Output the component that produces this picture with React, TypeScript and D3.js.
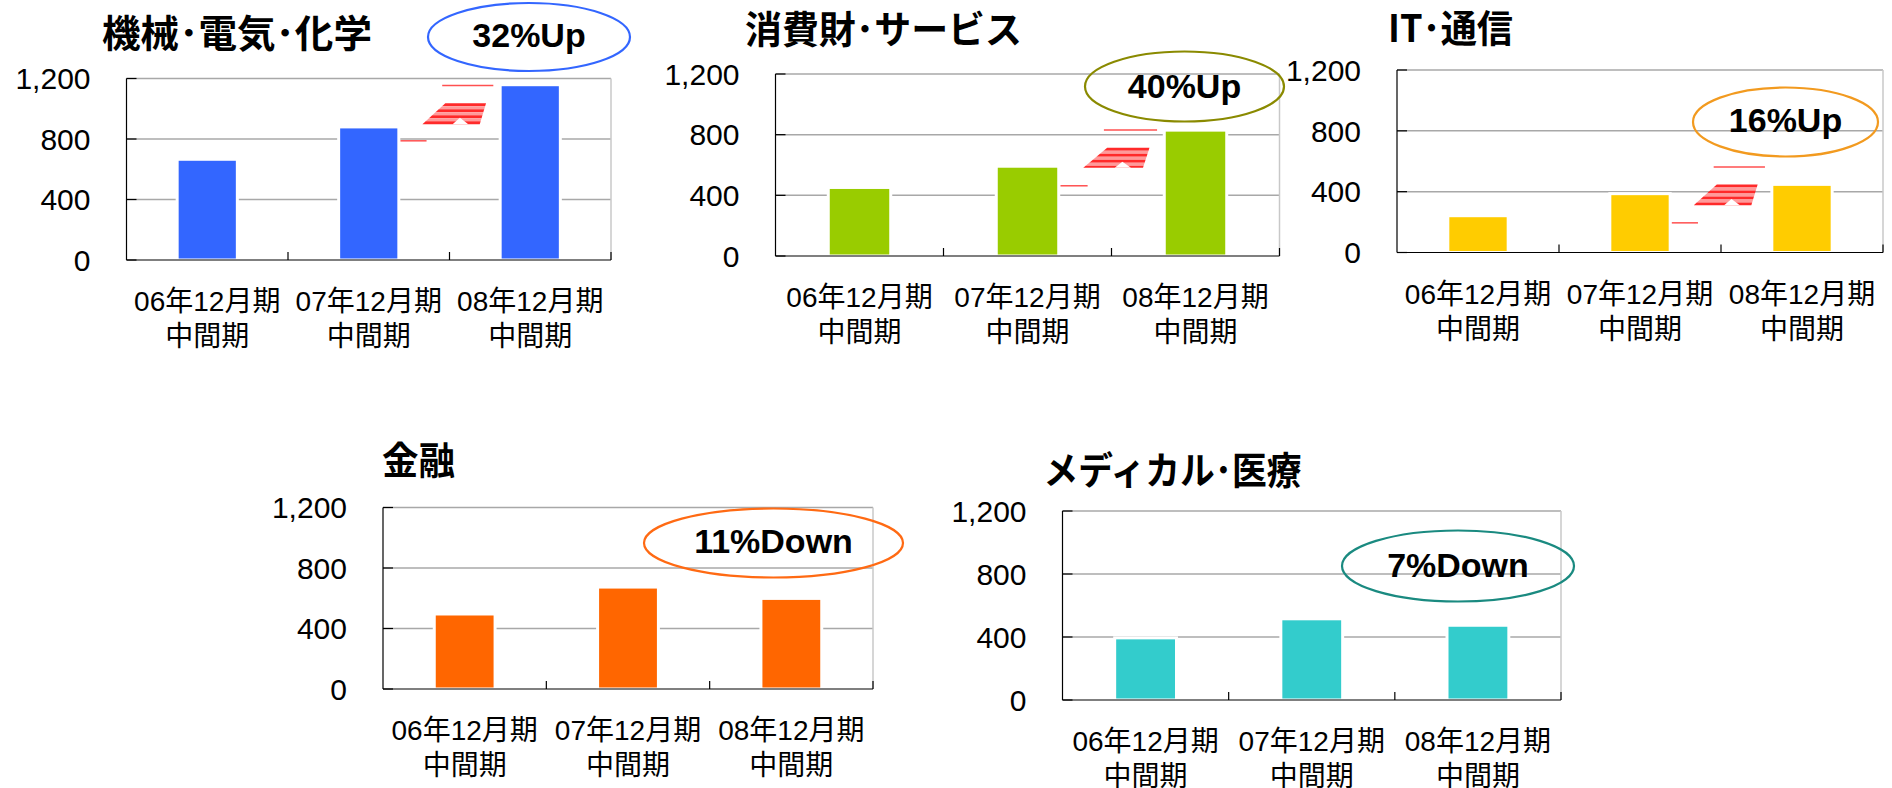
import React from 'react';
import * as d3 from 'd3';

// data (axis 0-1,200)
const periods = ['06年12月期', '07年12月期', '08年12月期'];
const periodSub = '中間期';
const yTicks = [0, 400, 800, 1200];

const titles = ['機械･電気･化学', '消費財･サービス', 'IT･通信', '金融', 'メディカル･医療'];
const machineryValues = [656, 870, 1149];
const consumerValues = [442, 582, 820];
const itValues = [232, 377, 438];
const financeValues = [486, 664, 589];
const medicalValues = [385, 506, 465];
const badges = ['32%Up', '40%Up', '16%Up', '11%Down', '7%Down'];

// the pasted red arrow picture: top line, stripe top, stripe bottom, low line (value units)
const machineryArrow = [1154, 1037, 898, 788];
const consumerArrow = [831, 714, 582, 463];
const itArrow = [563, 447, 311, 195];

const barColors = ['#3366ff', '#99cc00', '#ffcc00', '#ff6600', '#33cccc'];
const ringColors = ['#3366ff', '#8a8a00', '#f29a1f', '#ff6a13', '#1a8a80'];

// plot boxes and decorations, in page pixels
const layout = [
  { x0: 126.5, x1: 611, y0: 78.5, y1: 260, tx: 102, ty: 47, tw: 270, cx: 529, cy: 37, rx: 101, ry: 34, by: 47 },
  { x0: 775.5, x1: 1279.5, y0: 74, y1: 256, tx: 745, ty: 43, tw: 277, cx: 1184.5, cy: 86.5, rx: 99.5, ry: 35, by: 98 },
  { x0: 1397, x1: 1883, y0: 70, y1: 252.5, tx: 1388, ty: 42, tw: 125, cx: 1785.5, cy: 122, rx: 92.5, ry: 34.5, by: 131.5 },
  { x0: 383, x1: 873, y0: 507.5, y1: 689, tx: 382, ty: 474, tw: 73, cx: 773.5, cy: 543, rx: 129.5, ry: 34.5, by: 553 },
  { x0: 1062.5, x1: 1561, y0: 511, y1: 700, tx: 1043.5, ty: 484, tw: 258, cx: 1458, cy: 566, rx: 116, ry: 35.5, by: 577 },
];

const panels = [
  { values: machineryValues, arrow: machineryArrow },
  { values: consumerValues, arrow: consumerArrow },
  { values: itValues, arrow: itArrow },
  { values: financeValues, arrow: null },
  { values: medicalValues, arrow: null },
];

const numFont = "'Liberation Sans', Arial, sans-serif";
const labelFont = "'Liberation Sans', 'Noto Sans CJK JP', sans-serif";
const titleFont = "'Noto Sans CJK JP', sans-serif";

const Arrow = ({ x, y, bw, arrow }) => {
  const gx0 = x(periods[1]) + x.bandwidth() / 2 + bw / 2;
  const gx1 = x(periods[2]) + x.bandwidth() / 2 - bw / 2;
  const gap = gx1 - gx0;
  const fx = (f) => gx0 + f * gap;
  const [topLine, stripeTop, stripeBottom, lowLine] = arrow;
  const yt = y(stripeTop);
  const yb = y(stripeBottom);
  const h = yb - yt;
  // left / right edges of the slanted band at a given pixel row
  const left = (yy) => fx(0.46 + (0.24 - 0.46) * ((yy - yt) / h));
  const right = (yy) => fx(0.85 + (0.79 - 0.85) * ((yy - yt) / h));
  const rows = d3.range(yt, yb, 3);
  return (
    <g>
      <line x1={fx(0.43)} x2={fx(0.92)} y1={y(topLine)} y2={y(topLine)} stroke="#ff5050" strokeWidth={1.5} />
      {rows.map((r, i) => {
        const r2 = Math.min(r + 3, yb);
        return (
          <polygon
            key={i}
            points={`${left(r)},${r} ${right(r)},${r} ${right(r2)},${r2} ${left(r2)},${r2}`}
            fill={i % 2 === 0 ? '#ff2a2a' : '#ff9a9a'}
          />
        );
      })}
      <polygon points={`${fx(0.53)},${yb} ${fx(0.6)},${yt + h * 0.7} ${fx(0.68)},${yb}`} fill="#ffffff" />
      <line x1={fx(0.03)} x2={fx(0.28)} y1={y(lowLine)} y2={y(lowLine)} stroke="#ff5050" strokeWidth={1.5} />
    </g>
  );
};

const Panel = ({ idx }) => {
  const L = layout[idx];
  const { values, arrow } = panels[idx];
  const x = d3.scaleBand().domain(periods).range([L.x0, L.x1]).padding(0);
  const y = d3.scaleLinear().domain([0, 1200]).range([L.y1, L.y0]);
  const bw = x.bandwidth() * 0.354;
  const bounds = periods.map((p) => x(p) + x.bandwidth());

  return (
    <g>
      {/* grid */}
      {yTicks.filter((t) => t > 0).map((t) => (
        <line key={t} x1={L.x0} x2={L.x1} y1={y(t)} y2={y(t)} stroke="#a8a8a8" strokeWidth={1.5} />
      ))}
      <line x1={L.x1} x2={L.x1} y1={L.y0} y2={L.y1} stroke="#c8c8c8" strokeWidth={1.5} />

      {/* bars */}
      {values.map((v, i) => (
        <rect
          key={i}
          x={x(periods[i]) + (x.bandwidth() - bw) / 2}
          y={y(v)}
          width={bw}
          height={y(0) - y(v) - 1.5}
          fill={barColors[idx]}
          stroke="#ffffff"
          strokeWidth={6}
          paintOrder="stroke"
        />
      ))}

      {arrow && <Arrow x={x} y={y} bw={bw} arrow={arrow} />}

      {/* axes */}
      <line x1={L.x0} x2={L.x0} y1={L.y0} y2={L.y1} stroke="#000" strokeWidth={1.2} />
      <line x1={L.x0} x2={L.x1} y1={L.y1} y2={L.y1} stroke="#000" strokeWidth={1.2} />
      {yTicks.map((t) => (
        <line key={t} x1={L.x0} x2={L.x0 + 10} y1={y(t)} y2={y(t)} stroke="#000" strokeWidth={1.2} />
      ))}
      {bounds.map((b, i) => (
        <line key={i} x1={b} x2={b} y1={L.y1} y2={L.y1 - 8} stroke="#000" strokeWidth={1.2} />
      ))}
      {yTicks.map((t) => (
        <text key={t} x={L.x0 - 36} y={y(t) + 10.7} textAnchor="end" fontFamily={numFont} fontSize={30} fill="#000">
          {d3.format(',')(t)}
        </text>
      ))}
      {periods.map((p) => (
        <g key={p} fontFamily={labelFont} fontSize={28} textAnchor="middle" fill="#000">
          <text x={x(p) + x.bandwidth() / 2} y={L.y1 + 51}>{p}</text>
          <text x={x(p) + x.bandwidth() / 2} y={L.y1 + 86}>{periodSub}</text>
        </g>
      ))}

      {/* title and badge */}
      <text
        x={L.tx}
        y={L.ty}
        fontFamily={titleFont}
        fontWeight={700}
        fontSize={38}
        fill="#000"
        textLength={L.tw}
        lengthAdjust="spacingAndGlyphs"
      >
        {titles[idx]}
      </text>
      <ellipse cx={L.cx} cy={L.cy} rx={L.rx} ry={L.ry} fill="none" stroke={ringColors[idx]} strokeWidth={2.2} />
      <text x={L.cx} y={L.by} textAnchor="middle" fontFamily={numFont} fontWeight={700} fontSize={34} fill="#000">
        {badges[idx]}
      </text>
    </g>
  );
};

export default function App() {
  return (
    <div style={{ position: 'absolute', left: 0, top: 0 }}>
      <svg width={1892} height={788} style={{ display: 'block', background: '#fff' }}>
        {layout.map((_, i) => (
          <Panel key={i} idx={i} />
        ))}
      </svg>
    </div>
  );
}
